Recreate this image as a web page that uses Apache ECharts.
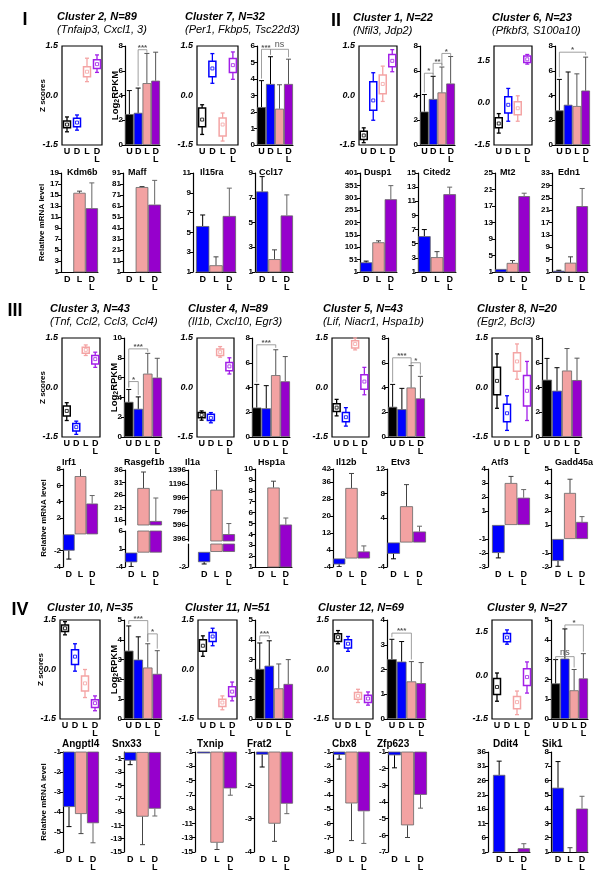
<!DOCTYPE html>
<html><head><meta charset="utf-8">
<script src="https://cdn.jsdelivr.net/npm/echarts@6/dist/echarts.min.js"></script>
<style>html,body{margin:0;padding:0;background:#fff}#c{width:600px;height:879px}</style>
</head><body><div id="c"></div>
<script>
// ---------------- categories ----------------
const clusterCats = ['U', 'D', 'L', 'D\nL'];
const mrnaCats = ['D', 'L', 'D\nL'];
const zTicks = [-1.5, 0, 1.5];
const rpkmTicks4 = [0, 1, 2, 3, 4];
const rpkmTicks5 = [0, 1, 2, 3, 4, 5];
const rpkmTicks6 = [0, 1, 2, 3, 4, 5, 6];
const rpkmTicks8 = [0, 2, 4, 6, 8];
const rpkmTicks10 = [0, 2, 4, 6, 8, 10];

// ---------------- cluster texts ----------------
const clusterTitles = ['Cluster 2, N=89', 'Cluster 7, N=32', 'Cluster 1, N=22', 'Cluster 6, N=23',
  'Cluster 3, N=43', 'Cluster 4, N=89', 'Cluster 5, N=43', 'Cluster 8, N=20',
  'Cluster 10, N=35', 'Cluster 11, N=51', 'Cluster 12, N=69', 'Cluster 9, N=27'];
const clusterSubtitles = ['(Tnfaip3, Cxcl1, 3)', '(Per1, Fkbp5, Tsc22d3)', '(Nfil3, Jdp2)', '(Pfkbf3, S100a10)',
  '(Tnf, Ccl2, Ccl3, Ccl4)', '(Il1b, Cxcl10, Egr3)', '(Lif, Niacr1, Hspa1b)', '(Egr2, Bcl3)',
  '', '', '', ''];
const sectionLabels = ['I', 'II', 'III', 'IV'];

// ---------------- cluster data ----------------
// Z-score box stats per group U, D, L, DL: [min, q1, median, q3, max]
const c2Box = [[-1.10, -0.98, -0.88, -0.77, -0.65], [-1.05, -0.95, -0.82, -0.69, -0.59], [0.42, 0.57, 0.72, 0.87, 1.13], [0.70, 0.82, 0.95, 1.08, 1.23]];
const c7Box = [[-1.18, -0.95, -0.73, -0.38, -0.28], [0.37, 0.57, 0.82, 1.04, 1.27], [-1.38, -1.23, -0.88, -0.68, -0.53], [0.49, 0.70, 0.92, 1.12, 1.32]];
const c1Box = [[-1.43, -1.33, -1.21, -1.08, -0.98], [-0.75, -0.45, -0.15, 0.42, 0.69], [-0.18, 0.05, 0.35, 0.62, 0.89], [0.72, 0.87, 1.05, 1.24, 1.39]];
const c6Box = [[-1.08, -0.89, -0.74, -0.54, -0.39], [-0.66, -0.37, -0.08, 0.21, 0.50], [-0.66, -0.43, -0.20, 0.03, 0.24], [1.36, 1.42, 1.53, 1.65, 1.70]];
const c3Box = [[-1.00, -0.86, -0.71, -0.56, -0.46], [-1.42, -1.32, -1.20, -1.09, -1.02], [0.97, 1.04, 1.14, 1.22, 1.29], [0.61, 0.71, 0.86, 0.97, 1.07]];
const c4Box = [[-0.99, -0.92, -0.83, -0.76, -0.71], [-1.07, -1.00, -0.92, -0.81, -0.76], [0.92, 0.97, 1.07, 1.17, 1.24], [0.41, 0.51, 0.64, 0.76, 0.90]];
const c5Box = [[-0.86, -0.73, -0.61, -0.49, -0.36], [-1.17, -1.04, -0.90, -0.76, -0.61], [1.14, 1.20, 1.32, 1.42, 1.50], [-0.22, -0.05, 0.18, 0.39, 0.61]];
const c8Box = [[-0.63, -0.22, 0.20, 0.61, 1.02], [-1.30, -1.04, -0.78, -0.51, -0.25], [0.25, 0.49, 0.79, 1.05, 1.32], [-1.00, -0.56, -0.10, 0.36, 0.79]];
const c10Box = [[1.05, 1.15, 1.25, 1.35, 1.45], [-0.05, 0.15, 0.39, 0.60, 0.78], [-0.85, -0.65, -0.42, -0.20, 0.00], [-1.25, -1.15, -1.02, -0.92, -0.80]];
const c11Box = [[0.40, 0.55, 0.72, 0.90, 1.02], [0.72, 0.85, 1.00, 1.12, 1.25], [-1.22, -1.12, -1.00, -0.90, -0.80], [-0.95, -0.82, -0.67, -0.52, -0.38]];
const c12Box = [[0.78, 0.85, 0.98, 1.08, 1.18], [0.55, 0.65, 0.78, 0.90, 1.00], [-1.00, -0.90, -0.80, -0.70, -0.60], [-1.08, -1.00, -0.88, -0.78, -0.68]];
const c9Box = [[-0.89, -0.66, -0.40, -0.11, 0.08], [1.07, 1.15, 1.30, 1.44, 1.56], [-1.35, -1.15, -0.92, -0.73, -0.54], [-0.61, -0.35, -0.06, 0.23, 0.46]];

// Log2RPKM mean and SD per group U, D, L, DL
const c2Mean = [2.5, 2.6, 5.0, 5.2], c2Sd = [1.9, 2.0, 2.4, 2.3];
const c7Mean = [2.3, 3.7, 2.2, 3.7], c7Sd = [1.6, 1.65, 1.45, 1.5];
const c1Mean = [2.7, 3.72, 4.25, 4.97], c1Sd = [1.38, 1.83, 2.05, 2.18];
const c6Mean = [2.8, 3.25, 3.15, 4.4], c6Sd = [2.5, 2.65, 2.6, 2.7];
const c3Mean = [3.55, 2.85, 6.4, 6.0], c3Sd = [1.25, 1.2, 2.05, 1.95];
const c4Mean = [2.38, 2.32, 5.0, 4.5], c4Sd = [1.87, 1.83, 2.05, 2.0];
const c5Mean = [2.44, 2.25, 4.0, 3.12], c5Sd = [1.81, 1.68, 1.77, 1.78];
const c8Mean = [4.63, 3.74, 5.37, 4.6], c8Sd = [1.72, 1.86, 1.78, 1.77];
const c10Mean = [3.45, 3.0, 2.6, 2.28], c10Sd = [1.25, 1.15, 1.2, 1.17];
const c11Mean = [2.53, 2.69, 1.55, 1.77], c11Sd = [1.31, 1.26, 1.23, 1.23];
const c12Mean = [2.42, 2.32, 1.52, 1.45], c12Sd = [0.8, 0.81, 0.8, 0.83];
const c9Mean = [1.8, 3.05, 1.45, 2.05], c9Sd = [1.2, 1.5, 1.05, 1.25];

// significance brackets: [fromGroup, toGroup, height, label]
const c2Sig = [[1, 2, 7.7, '***']];
const c7Sig = [[0, 1, 5.8, '***'], [1, 3, 5.8, 'ns']];
const c1Sig = [[0, 1, 5.8, '*'], [1, 2, 6.6, '**'], [2, 3, 7.4, '*']];
const c6Sig = [[0, 3, 7.5, '*']];
const c3Sig = [[0, 2, 8.9, '***'], [0, 1, 5.6, '*']];
const c4Sig = [[0, 2, 7.45, '***']];
const c5Sig = [[0, 2, 6.4, '***'], [2, 3, 6.0, '*']];
const c8Sig = [];
const c10Sig = [[0, 2, 4.97, '***'], [2, 3, 4.3, '*']];
const c11Sig = [[0, 1, 4.2, '***']];
const c12Sig = [[0, 2, 3.47, '***']];
const c9Sig = [[0, 2, 3.15, 'ns'], [1, 3, 4.75, '*']];

// ---------------- relative mRNA data (D, L, DL) ----------------
const kdm6bMean = [1, 15.4, 12.6], kdm6bSd = [0, 0.3, 4.6], kdm6bTicks = [1, 3, 5, 7, 9, 11, 13, 15, 17, 19];
const maffMean = [1, 78.2, 62.3], maffSd = [0, 0.5, 22], maffTicks = [1, 11, 21, 31, 41, 51, 61, 71, 81, 91];
const il15raMean = [5.64, 1.68, 6.66], il15raSd = [1.12, 0.85, 2.81], il15raTicks = [1, 3, 5, 7, 9, 11];
const ccl17Mean = [7.51, 2.04, 5.57], ccl17Sd = [1.2, 0.75, 1.66], ccl17Ticks = [1, 3, 5, 7, 9];
const dusp1Mean = [40, 121, 295], dusp1Sd = [5, 6, 55], dusp1Ticks = [1, 51, 101, 151, 201, 251, 301, 351, 401];
const cited2Mean = [6.07, 3.1, 12.0], cited2Sd = [0.93, 0.78, 1.0], cited2Ticks = [1, 3, 5, 7, 9, 11, 13, 15];
const mt2Mean = [1.73, 3.2, 19.4], mt2Sd = [0, 0.58, 0.7], mt2Ticks = [1, 5, 9, 13, 17, 21, 25];
const edn1Mean = [1.4, 4.0, 22.3], edn1Sd = [0.17, 1.9, 5.7], edn1Ticks = [1, 5, 9, 13, 17, 21, 25, 29, 33];

const irf1Mean = [-2.0, 7.13, 3.77], irf1Sd = [1.03, 0.97, 0.98], irf1Ticks = [-4, -2, 2, 4, 6, 8];
const rasgef1bMean = [-2.7, 28.8, 15.6], rasgef1bSd = [1.2, 6.4, 9.2];
const rasgef1bTicksUp = [16, 21, 26, 31, 36], rasgef1bTicksLow = [-4, 1, 6];
const il1aMean = [-1.36, 1110, 467], il1aSd = [0.24, 290, 153];
const il1aTicksUp = [396, 596, 796, 996, 1196, 1396], il1aTicksLow = [-2];
const hsp1aMean = [1, 8.3, 4.9], hsp1aSd = [0, 0.58, 0.6], hsp1aTicks = [1, 2, 3, 4, 5, 6, 7, 8, 9, 10];
const il12bMean = [-2.8, 33.1, 3.3], il12bSd = [1.1, 6.8, 2.6], il12bTicks = [-4, 4, 12, 20, 28, 36, 42];
const etv3Mean = [-1.85, 5.92, 1.79], etv3Sd = [0.81, 3.53, 0.87], etv3Ticks = [-4, 4, 8, 12];
const atf3Mean = [-2.0, 3.0, 1.95], atf3Sd = [0.35, 0.47, 0.58], atf3Ticks = [-3, -2, -1, 1, 2, 3, 4];
const gadd45aMean = [-1.57, 3.29, 1.22], gadd45aSd = [0.38, 0.98, 0.38], gadd45aTicks = [-2, -1, 1, 2, 3, 4, 5];

const angptl4Mean = [-3.75, -4.1, -4.56], angptl4Sd = [0.98, 0.98, 0.98], angptl4Ticks = [-1, -2, -3, -4, -5, -6];
const snx33Mean = [-1.3, -9.7, -8.5], snx33Sd = [0.6, 4.2, 1.1], snx33Ticks = [-1, -3, -5, -7, -9, -11, -13, -15];
const txnipMean = [-1.2, -13.7, -6.1], txnipSd = [0, 0.95, 0.95], txnipTicks = [-1, -3, -5, -7, -9, -11, -13, -15];
const frat2Mean = [-1.08, -3.15, -2.55], frat2Sd = [0.37, 0.53, 0.3], frat2Ticks = [-1, -2, -3, -4];
const cbx8Mean = [-1.2, -4.6, -5.15], cbx8Sd = [0.3, 2.6, 2.25], cbx8Ticks = [-1, -2, -3, -4, -5, -6, -7, -8];
const zfp623Mean = [-1.2, -5.4, -3.57], zfp623Sd = [0.75, 0.73, 0.8], zfp623Ticks = [-1, -2, -3, -4, -5, -6, -7];
const ddit4Mean = [28.0, 1.0, 2.3], ddit4Sd = [4.8, 0, 1.6], ddit4Ticks = [1, 6, 11, 16, 21, 26, 31, 36];
const sik1Mean = [5.5, 1.0, 4.04], sik1Sd = [1.83, 0.3, 0.86], sik1Ticks = [1, 2, 3, 4, 5, 6, 7, 8];

// ---------------- styles ----------------
const FONT = '"Liberation Sans", Arial, sans-serif';
const barColors = ['#000000', '#0000ff', '#f2a2a2', '#9600cc'];
const boxColors = ['#000000', '#0000ff', '#f4a4a4', '#a21ee8'];
const mrnaColors = ['#0000ff', '#f2a2a2', '#9600cc'];
const errColors4 = ['#000', '#000', '#555', '#555'];
const errColors3 = ['#000', '#444', '#666'];

const option = { animation: false, textStyle: { fontFamily: FONT }, grid: [], xAxis: [], yAxis: [], series: [], graphic: { elements: [] } };
const G = option.graphic.elements;

const catLabel = { interval: 0, fontSize: 9, fontWeight: 'bold', color: '#000', lineHeight: 8, margin: 3, fontFamily: FONT };
const tickLabel = { fontSize: 8, fontWeight: 'bold', color: '#000', margin: 2, fontFamily: FONT, formatter: v => String(v) };

function addGrid(g, xa, ya) {
  const i = option.grid.length;
  option.grid.push(g);
  option.xAxis.push(Object.assign({ gridIndex: i }, xa));
  option.yAxis.push(Object.assign({ gridIndex: i }, ya));
  return i;
}
function text(x, y, t, font, extra) {
  const e = { type: 'text', x: x, y: y, silent: true, style: Object.assign({ text: t, font: font, fill: '#000', align: 'left', verticalAlign: 'middle' }, (extra && extra.style) || {}) };
  if (extra && extra.rotation != null) e.rotation = extra.rotation;
  G.push(e);
}

function renderBox(params, api) {
  const i = api.value(0);
  const yy = k => api.coord([i, api.value(k)])[1];
  const cx = api.coord([i, 0])[0];
  const yMin = yy(1), yQ1 = yy(2), yMed = yy(3), yQ3 = yy(4), yMax = yy(5);
  const c = boxColors[i];
  const st = { stroke: c, lineWidth: 1.3, fill: null };
  const hw = 3.5, cw = 2;
  return { type: 'group', children: [
    { type: 'line', shape: { x1: cx, y1: yMax, x2: cx, y2: yQ3 }, style: st },
    { type: 'line', shape: { x1: cx, y1: yQ1, x2: cx, y2: yMin }, style: st },
    { type: 'line', shape: { x1: cx - cw, y1: yMax, x2: cx + cw, y2: yMax }, style: st },
    { type: 'line', shape: { x1: cx - cw, y1: yMin, x2: cx + cw, y2: yMin }, style: st },
    { type: 'rect', shape: { x: cx - hw, y: yQ3, width: 2 * hw, height: yQ1 - yQ3 }, style: { stroke: c, lineWidth: 1.5, fill: '#fff' } },
    { type: 'rect', shape: { x: cx - 1.5, y: yMed - 1.5, width: 3, height: 3 }, style: { stroke: c, lineWidth: 0.8, fill: '#fff' } }
  ] };
}

function errSeries(gi, mean, sd, colors) {
  return { type: 'custom', xAxisIndex: gi, yAxisIndex: gi, silent: true, clip: true, z: 3,
    data: mean.map((m, i) => [i, m, sd[i]]),
    renderItem: (params, api) => {
      const i = params.dataIndex, m = api.value(1), s = api.value(2);
      if (!s) return { type: 'group', children: [] };
      const d = m >= 0 ? 1 : -1;
      const p0 = api.coord([i, m]), p1 = api.coord([i, m + d * s]);
      const st = { stroke: colors[i], lineWidth: 1 };
      return { type: 'group', children: [
        { type: 'line', shape: { x1: p0[0], y1: p0[1], x2: p1[0], y2: p1[1] }, style: st },
        { type: 'line', shape: { x1: p1[0] - 2.5, y1: p1[1], x2: p1[0] + 2.5, y2: p1[1] }, style: st }
      ] };
    } };
}

function sigSeries(gi, sig, tops) {
  return { type: 'custom', xAxisIndex: gi, yAxisIndex: gi, silent: true, z: 4,
    data: sig.map(s => [s[0], s[1], s[2], tops[s[0]], tops[s[1]]]),
    renderItem: (params, api) => {
      const s = sig[params.dataIndex];
      const a = api.coord([s[0], s[2]]), b = api.coord([s[1], s[2]]);
      const la = Math.max(api.coord([s[0], api.value(3)])[1] - 2, a[1] + 3);
      const lb = Math.max(api.coord([s[1], api.value(4)])[1] - 2, b[1] + 3);
      const ns = s[3] === 'ns';
      return { type: 'group', children: [
        { type: 'polyline', shape: { points: [[a[0], la], [a[0], a[1]], [b[0], b[1]], [b[0], lb]] }, style: { stroke: '#888', lineWidth: 0.8, fill: null } },
        { type: 'text', x: (a[0] + b[0]) / 2, y: a[1] + (ns ? 0 : 2), style: { text: s[3], font: (ns ? '9px ' : 'bold 8px ') + FONT, fill: '#555', align: 'center', verticalAlign: 'bottom' } }
      ] };
    } };
}

// ---------------- cluster panels ----------------
const clusterPanels = [
  { box: c2Box, mean: c2Mean, sd: c2Sd, sig: c2Sig, ticks: rpkmTicks8, top: 46, h: 99, boxX: 62, boxW: 40, barX: 125, barW: 35, zMax: 1.5, tx: 57, ty: 17, first: true },
  { box: c7Box, mean: c7Mean, sd: c7Sd, sig: c7Sig, ticks: rpkmTicks6, top: 46, h: 99, boxX: 197, boxW: 41, barX: 257, barW: 36, zMax: 1.5, tx: 185, ty: 17 },
  { box: c1Box, mean: c1Mean, sd: c1Sd, sig: c1Sig, ticks: rpkmTicks8, top: 46, h: 99, boxX: 359, boxW: 38, barX: 420, barW: 35, zMax: 1.5, tx: 353, ty: 18 },
  { box: c6Box, mean: c6Mean, sd: c6Sd, sig: c6Sig, ticks: rpkmTicks8, top: 46, h: 99, boxX: 494, boxW: 38, barX: 555, barW: 35, zMax: 2.0, tx: 492, ty: 18 },
  { box: c3Box, mean: c3Mean, sd: c3Sd, sig: c3Sig, ticks: rpkmTicks10, top: 338, h: 99, boxX: 62, boxW: 38, barX: 124, barW: 38, zMax: 1.5, tx: 50, ty: 309, first: true },
  { box: c4Box, mean: c4Mean, sd: c4Sd, sig: c4Sig, ticks: rpkmTicks8, top: 338, h: 99, boxX: 197, boxW: 37, barX: 252, barW: 38, zMax: 1.5, tx: 188, ty: 309 },
  { box: c5Box, mean: c5Mean, sd: c5Sd, sig: c5Sig, ticks: rpkmTicks8, top: 338, h: 99, boxX: 332, boxW: 37, barX: 388, barW: 37, zMax: 1.5, tx: 323, ty: 309 },
  { box: c8Box, mean: c8Mean, sd: c8Sd, sig: c8Sig, ticks: rpkmTicks8, top: 338, h: 99, boxX: 492, boxW: 40, barX: 542, barW: 40, zMax: 1.5, tx: 477, ty: 309 },
  { box: c10Box, mean: c10Mean, sd: c10Sd, sig: c10Sig, ticks: rpkmTicks5, top: 620, h: 99, boxX: 60, boxW: 40, barX: 124, barW: 38, zMax: 1.5, tx: 47, ty: 608, first: true },
  { box: c11Box, mean: c11Mean, sd: c11Sd, sig: c11Sig, ticks: rpkmTicks5, top: 620, h: 99, boxX: 198, boxW: 39, barX: 255, barW: 38, zMax: 1.5, tx: 185, ty: 608 },
  { box: c12Box, mean: c12Mean, sd: c12Sd, sig: c12Sig, ticks: rpkmTicks4, top: 620, h: 99, boxX: 333, boxW: 40, barX: 387, barW: 39, zMax: 1.5, tx: 318, ty: 608 },
  { box: c9Box, mean: c9Mean, sd: c9Sd, sig: c9Sig, ticks: rpkmTicks5, top: 620, h: 99, boxX: 492, boxW: 40, barX: 551, barW: 37, zMax: 1.9, tx: 487, ty: 608 }
];

clusterPanels.forEach((p, k) => {
  // box plot of Z scores
  let gi = addGrid({ left: p.boxX, top: p.top, width: p.boxW, height: p.h, show: true, borderColor: '#000', borderWidth: 1.2, backgroundColor: '#fff' },
    { type: 'category', data: clusterCats, axisLine: { show: false }, axisTick: { show: false }, axisLabel: catLabel },
    { type: 'value', min: -1.5, max: p.zMax, axisLine: { show: false }, axisTick: { show: false }, splitLine: { show: false },
      axisLabel: { customValues: zTicks, formatter: v => v.toFixed(1), fontSize: 9, fontWeight: 'bold', fontStyle: 'italic', color: '#000', margin: 4, fontFamily: FONT } });
  option.series.push({ type: 'custom', xAxisIndex: gi, yAxisIndex: gi, silent: true, data: p.box.map((b, i) => [i].concat(b)), renderItem: renderBox });
  // log2RPKM bars
  gi = addGrid({ left: p.barX, top: p.top, width: p.barW, height: p.h },
    { type: 'category', data: clusterCats, axisLine: { show: true, lineStyle: { color: '#000', width: 1.2 } }, axisTick: { show: false }, axisLabel: catLabel },
    { type: 'value', min: 0, max: p.ticks[p.ticks.length - 1], axisLine: { show: true, lineStyle: { color: '#000', width: 1.2 } },
      axisTick: { show: true, length: 3, customValues: p.ticks, lineStyle: { color: '#000' } }, splitLine: { show: false },
      axisLabel: Object.assign({ customValues: p.ticks }, tickLabel) });
  option.series.push({ type: 'bar', xAxisIndex: gi, yAxisIndex: gi, silent: true, barCategoryGap: '0%',
    itemStyle: { borderColor: '#666', borderWidth: 0.8 },
    data: p.mean.map((v, i) => ({ value: v, itemStyle: { color: barColors[i] } })) });
  option.series.push(errSeries(gi, p.mean, p.sd, errColors4));
  if (p.sig.length) option.series.push(sigSeries(gi, p.sig, p.mean.map((m, i) => m + p.sd[i])));
  // titles
  text(p.tx, p.ty, clusterTitles[k], 'italic bold 11px ' + FONT);
  if (clusterSubtitles[k]) text(p.tx, p.ty + 12.5, clusterSubtitles[k], 'italic 11px ' + FONT);
  if (p.first) {
    text(p.boxX - 19, p.top + p.h / 2, 'Z scores', 'bold 8px ' + FONT, { rotation: Math.PI / 2, style: { align: 'center' } });
    G.push({ type: 'text', x: p.barX - 10, y: p.top + p.h / 2, rotation: Math.PI / 2, silent: true,
      style: { text: '{a|Log}{b|2}{a|RPKM}', align: 'center', verticalAlign: 'middle', fill: '#000',
        rich: { a: { fontSize: 9.5, fontWeight: 'bold', fontFamily: FONT, lineHeight: 12 }, b: { fontSize: 7, fontWeight: 'bold', fontFamily: FONT, verticalAlign: 'bottom', lineHeight: 8, padding: [5, 0, 0, 0] } } } });
  }
});

// ---------------- relative mRNA panels ----------------
function mrnaGrid(x, top, w, h, off, min, max, ticks, showCats, baseLine) {
  return addGrid({ left: x, top: top, width: w, height: h },
    { type: 'category', data: mrnaCats, axisLine: { show: baseLine, onZero: false, lineStyle: { color: '#000', width: 1 } }, axisTick: { show: false },
      axisLabel: Object.assign({}, catLabel, { show: showCats, margin: 4 }) },
    { type: 'value', min: min, max: max, offset: off, axisLine: { show: true, onZero: false, lineStyle: { color: '#000', width: 1.2 } },
      axisTick: { show: true, length: 3, customValues: ticks, lineStyle: { color: '#000' } }, splitLine: { show: false },
      axisLabel: Object.assign({ customValues: ticks }, tickLabel) });
}
function mrnaBars(gi, mean, sd) {
  option.series.push({ type: 'bar', xAxisIndex: gi, yAxisIndex: gi, silent: true, clip: true, barCategoryGap: '0%',
    itemStyle: { borderColor: '#666', borderWidth: 0.8 },
    data: mean.map((v, i) => ({ value: v, itemStyle: { color: mrnaColors[i] } })) });
  option.series.push(errSeries(gi, mean, sd, errColors3));
}

const mrnaPanels = [
  { name: 'Kdm6b', mean: kdm6bMean, sd: kdm6bSd, ticks: kdm6bTicks, x: 61, w: 37, off: 0, top: 173, h: 99, lx: 67, ly: 173, base: true, ylab: true },
  { name: 'Maff', mean: maffMean, sd: maffSd, ticks: maffTicks, x: 123, w: 38, off: 0, top: 173, h: 99, lx: 128, ly: 173, base: true },
  { name: 'Il15ra', mean: il15raMean, sd: il15raSd, ticks: il15raTicks, x: 196, w: 40, off: 3, top: 173, h: 99, lx: 200, ly: 173, base: true },
  { name: 'Ccl17', mean: ccl17Mean, sd: ccl17Sd, ticks: ccl17Ticks, x: 256, w: 37, off: 1, top: 173, h: 99, lx: 259, ly: 173, base: true },
  { name: 'Dusp1', mean: dusp1Mean, sd: dusp1Sd, ticks: dusp1Ticks, x: 360, w: 37, off: 0, top: 173, h: 99, lx: 364, ly: 173, base: true },
  { name: 'Cited2', mean: cited2Mean, sd: cited2Sd, ticks: cited2Ticks, x: 418, w: 38, off: 0, top: 173, h: 99, lx: 423, ly: 173, base: true },
  { name: 'Mt2', mean: mt2Mean, sd: mt2Sd, ticks: mt2Ticks, x: 495, w: 35, off: 0, top: 173, h: 99, lx: 500, ly: 173, base: true },
  { name: 'Edn1', mean: edn1Mean, sd: edn1Sd, ticks: edn1Ticks, x: 553, w: 35, off: 1, top: 173, h: 99, lx: 558, ly: 173, base: true },
  { name: 'Irf1', mean: irf1Mean, sd: irf1Sd, ticks: irf1Ticks, x: 63, w: 35, off: 0, top: 469, h: 98, lx: 62, ly: 463, ylab: true },
  { name: 'Hsp1a', mean: hsp1aMean, sd: hsp1aSd, ticks: hsp1aTicks, x: 255, w: 37, off: 0, top: 469, h: 98, lx: 258, ly: 463, base: true },
  { name: 'Il12b', mean: il12bMean, sd: il12bSd, ticks: il12bTicks, x: 333, w: 37, off: 0, top: 469, h: 98, lx: 336, ly: 463 },
  { name: 'Etv3', mean: etv3Mean, sd: etv3Sd, ticks: etv3Ticks, x: 387, w: 39, off: 0, top: 469, h: 98, lx: 391, ly: 463 },
  { name: 'Atf3', mean: atf3Mean, sd: atf3Sd, ticks: atf3Ticks, x: 492, w: 38, off: 4, top: 469, h: 98, lx: 491, ly: 463 },
  { name: 'Gadd45a', mean: gadd45aMean, sd: gadd45aSd, ticks: gadd45aTicks, x: 552, w: 36, off: 1, top: 469, h: 98, lx: 555, ly: 463 },
  { name: 'Angptl4', mean: angptl4Mean, sd: angptl4Sd, ticks: angptl4Ticks, x: 63, w: 36, off: 0, top: 752, h: 100, lx: 62, ly: 744, ylab: true, big: true },
  { name: 'Snx33', mean: snx33Mean, sd: snx33Sd, ticks: snx33Ticks, x: 124, w: 37, off: 0, top: 752, h: 100, lx: 112, ly: 744, max: 0, big: true },
  { name: 'Txnip', mean: txnipMean, sd: txnipSd, ticks: txnipTicks, x: 197, w: 40, off: 2, top: 752, h: 100, lx: 197, ly: 744, big: true },
  { name: 'Frat2', mean: frat2Mean, sd: frat2Sd, ticks: frat2Ticks, x: 256, w: 37, off: 2, top: 752, h: 100, lx: 247, ly: 744, big: true },
  { name: 'Cbx8', mean: cbx8Mean, sd: cbx8Sd, ticks: cbx8Ticks, x: 333, w: 37, off: 0, top: 752, h: 100, lx: 332, ly: 744, big: true },
  { name: 'Zfp623', mean: zfp623Mean, sd: zfp623Sd, ticks: zfp623Ticks, x: 388, w: 39, off: 0, top: 752, h: 100, lx: 377, ly: 744, big: true },
  { name: 'Ddit4', mean: ddit4Mean, sd: ddit4Sd, ticks: ddit4Ticks, x: 493, w: 37, off: 5, top: 752, h: 100, lx: 493, ly: 744, base: true, big: true },
  { name: 'Sik1', mean: sik1Mean, sd: sik1Sd, ticks: sik1Ticks, x: 552, w: 36, off: 1, top: 752, h: 100, lx: 542, ly: 744, base: true, big: true }
];

mrnaPanels.forEach(p => {
  const mn = Math.min.apply(null, p.ticks);
  const mx = p.max != null ? p.max : Math.max.apply(null, p.ticks);
  const gi = mrnaGrid(p.x, p.top, p.w, p.h, p.off, mn, mx, p.ticks, true, !!p.base);
  mrnaBars(gi, p.mean, p.sd);
  text(p.lx, p.ly, p.name, 'bold ' + (p.big ? 10 : 9) + 'px ' + FONT);
  if (p.ylab) text(p.x - 19, p.top + p.h / 2, 'Relative mRNA level', 'bold 8px ' + FONT, { rotation: Math.PI / 2, style: { align: 'center' } });
});

// broken-axis panels (Rasgef1b, Il1a)
const brokenPanels = [
  { name: 'Rasgef1b', mean: rasgef1bMean, sd: rasgef1bSd, ticksUp: rasgef1bTicksUp, ticksLow: rasgef1bTicksLow,
    x: 125, w: 37, off: 0, upTop: 470, upH: 55, upMin: 14, upMax: 36, lowTop: 531, lowH: 36, lowMin: -4, lowMax: 6, lx: 124, ly: 463 },
  { name: 'Il1a', mean: il1aMean, sd: il1aSd, ticksUp: il1aTicksUp, ticksLow: il1aTicksLow,
    x: 198, w: 37, off: 10, upTop: 470, upH: 71, upMin: 367, upMax: 1396, lowTop: 544, lowH: 23, lowMin: -2, lowMax: 1.05, lx: 185, ly: 463 }
];
brokenPanels.forEach(p => {
  let gi = mrnaGrid(p.x, p.upTop, p.w, p.upH, p.off, p.upMin, p.upMax, p.ticksUp, false, false);
  mrnaBars(gi, p.mean, p.sd);
  gi = mrnaGrid(p.x, p.lowTop, p.w, p.lowH, p.off, p.lowMin, p.lowMax, p.ticksLow, true, false);
  mrnaBars(gi, p.mean, p.sd);
  text(p.lx, p.ly, p.name, 'bold 9px ' + FONT);
});

// section labels
text(25, 20, sectionLabels[0], 'bold 18px ' + FONT, { style: { align: 'center' } });
text(336, 21, sectionLabels[1], 'bold 18px ' + FONT, { style: { align: 'center' } });
text(15, 311, sectionLabels[2], 'bold 18px ' + FONT, { style: { align: 'center' } });
text(20, 610, sectionLabels[3], 'bold 18px ' + FONT, { style: { align: 'center' } });

const chart = echarts.init(document.getElementById('c'), null, { renderer: 'canvas' });
chart.setOption(option);
</script>
</body></html>
